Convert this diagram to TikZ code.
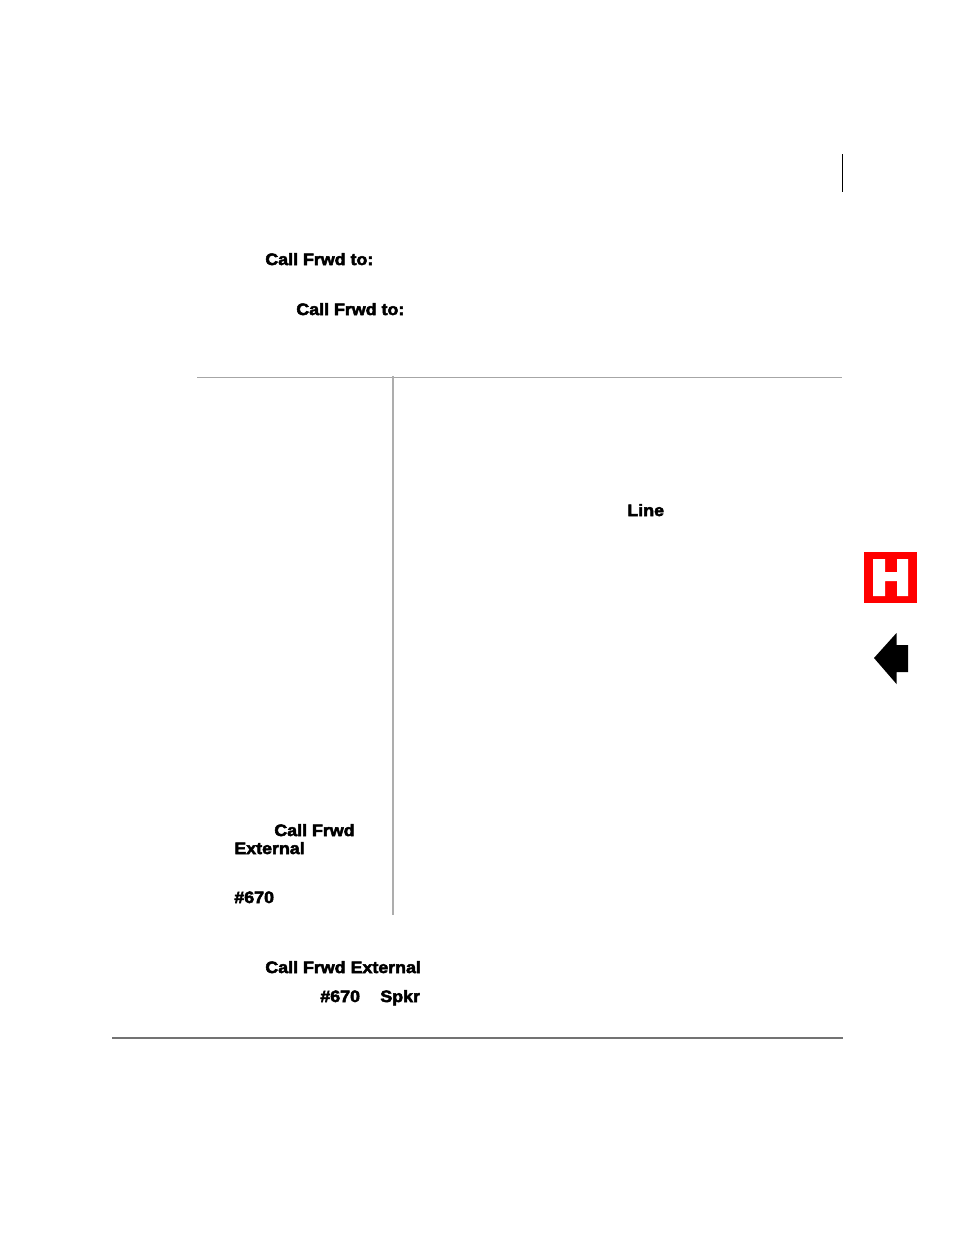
\documentclass[tikz,border=0pt]{standalone}
\usepackage{fontspec}
\setmainfont{Liberation Sans}
\newfontfamily\keyfont[FakeBold=3,FakeStretch=1.08]{Liberation Sans Bold}
\begin{document}
\begin{tikzpicture}[
    x=0.02cm, y=-0.02cm,
    key/.style={anchor=base west, inner sep=0pt, font=\fontsize{9.4}{11}\keyfont},
    rule/.style={draw=black!35, line width=0.75pt},
    footrule/.style={draw=black!55, line width=1pt}
]
    \useasboundingbox (0,0) rectangle (954,1235);

    % Change bar
    \draw[black, line width=0.6pt] (842.5,154) -- (842.5,192);

    % Upper text
    \node[key] (callone) at (265,265) {Call Frwd to:};
    \node[key] (calltwo) at (296,315) {Call Frwd to:};

    % Table rules
    \draw[rule] (197,377.5) -- (842,377.5);
    \draw[rule, draw=black!32, line width=1.2pt] (393,376) -- (393,915);

    % Table text
    \node[key] (line) at (627,516) {Line};
    \node[key] (callfrwd) at (274,836) {Call Frwd};
    \node[key] (external) at (234,854) {External};
    \node[key] (codeone) at (234,903) {\#670};

    % Lower text
    \node[key] (callext) at (265,973) {Call Frwd External};
    \node[key] (codetwo) at (320,1002) {\#670};
    \node[key] (spkr) at (380,1002) {Spkr};

    % Foot rule
    \draw[footrule] (112,1038) -- (843,1038);

    % Tab letter
    \fill[red] (864,552) rectangle (917,603);
    \fill[white] (873,559) -- (885,559) -- (885,572) -- (897,572) -- (897,559) -- (908,559)
        -- (908,596) -- (897,596) -- (897,581) -- (885,581) -- (885,596) -- (873,596) -- cycle;

    % Back arrow
    \fill[black] (874,658) -- (896.5,633) -- (896.5,645) -- (908,645) -- (908,672)
        -- (896.5,672) -- (896.5,684) -- cycle;
\end{tikzpicture}
\end{document}
